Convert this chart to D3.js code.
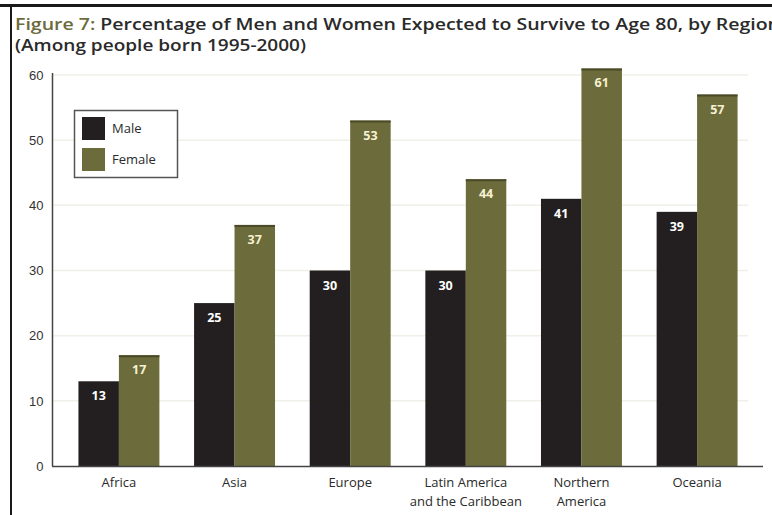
<!DOCTYPE html>
<html>
<head>
<meta charset="utf-8">
<script src="https://cdn.jsdelivr.net/npm/d3@7"></script>
<style>
  body { margin: 0; background: #fff; }
  svg { display: block; font-family: "Open Sans", "DejaVu Sans", sans-serif; }
</style>
</head>
<body>
<svg id="chart" width="772" height="515"></svg>
<script>
const regions = [["Africa"], ["Asia"], ["Europe"], ["Latin America", "and the Caribbean"], ["Northern", "America"], ["Oceania"]];
const male = [13, 25, 30, 30, 41, 39];
const female = [17, 37, 53, 44, 61, 57];
const yTicks = [0, 10, 20, 30, 40, 50, 60];
const seriesNames = ["Male", "Female"];

const colors = { Male: "#231f20", Female: "#6b6b3b" };
const labelColors = { Male: "#ffffff", Female: "#f6f1d0" };

const svg = d3.select("#chart");

// frame
svg.append("line").attr("x1", 0).attr("x2", 772).attr("y1", 5.5).attr("y2", 5.5)
  .attr("stroke", "#1a1a1a").attr("stroke-width", 3);
svg.append("line").attr("x1", 11).attr("x2", 11).attr("y1", 4).attr("y2", 515)
  .attr("stroke", "#1a1a1a").attr("stroke-width", 2);

// title
const title = svg.append("text").attr("x", 15).attr("y", 30)
  .style("font-size", "16px").style("font-weight", 600)
  .attr("textLength", 765).attr("lengthAdjust", "spacingAndGlyphs");
title.append("tspan").attr("fill", "#6b6b3b").text("Figure 7: ");
title.append("tspan").attr("fill", "#2a2a2a").text("Percentage of Men and Women Expected to Survive to Age 80, by Region");
svg.append("text").attr("x", 15).attr("y", 51)
  .style("font-size", "16px").style("font-weight", 600).attr("fill", "#2a2a2a")
  .attr("textLength", 291).attr("lengthAdjust", "spacingAndGlyphs")
  .text("(Among people born 1995-2000)");

const x = d3.scaleBand()
  .domain(regions.map((r, i) => i))
  .range([53, 763])
  .paddingInner(0.3)
  .paddingOuter(0.22);

const xs = d3.scaleBand()
  .domain(seriesNames)
  .range([0, x.bandwidth()]);

const y = d3.scaleLinear()
  .domain([0, 60])
  .range([466, 75]);

// gridlines
svg.append("g")
  .selectAll("line")
  .data(yTicks.filter(t => t > 0))
  .join("line")
  .attr("x1", 53).attr("x2", 748)
  .attr("y1", d => y(d)).attr("y2", d => y(d))
  .attr("stroke", "#f0efe8").attr("stroke-width", 1.5);

// y axis
const yAxis = svg.append("g")
  .attr("transform", "translate(52.5,0)")
  .call(d3.axisLeft(y).tickValues(yTicks).tickSize(0).tickPadding(9));
yAxis.select(".domain").attr("stroke", "#444").attr("stroke-width", 1.5)
  .attr("d", `M0,${y(0)}V${y(60) - 2}`);
yAxis.selectAll("text").style("font-size", "13px").style("font-weight", 500).attr("fill", "#333");

// bars
const groups = svg.append("g")
  .selectAll("g")
  .data(regions.map((r, i) => i))
  .join("g")
  .attr("transform", i => `translate(${x(i)},0)`);

const barData = i => [
  { series: "Male", value: male[i] },
  { series: "Female", value: female[i] },
];

groups.selectAll("rect")
  .data(barData)
  .join("rect")
  .attr("x", d => xs(d.series))
  .attr("y", d => y(d.value))
  .attr("width", xs.bandwidth())
  .attr("height", d => y(0) - y(d.value))
  .attr("fill", d => colors[d.series]);

groups.selectAll("line.top")
  .data(i => barData(i).filter(d => d.series === "Female"))
  .join("line")
  .attr("class", "top")
  .attr("x1", d => xs(d.series)).attr("x2", d => xs(d.series) + xs.bandwidth())
  .attr("y1", d => y(d.value) + 1).attr("y2", d => y(d.value) + 1)
  .attr("stroke", "#4a4a28").attr("stroke-width", 2);

groups.selectAll("text.val")
  .data(barData)
  .join("text")
  .attr("class", "val")
  .attr("x", d => xs(d.series) + xs.bandwidth() / 2)
  .attr("y", d => y(d.value) + 19)
  .attr("text-anchor", "middle")
  .style("font-size", "12.5px").style("font-weight", 700)
  .attr("fill", d => labelColors[d.series])
  .text(d => d.value);

// x axis
svg.append("line")
  .attr("x1", 52).attr("x2", 763)
  .attr("y1", y(0) + 0.5).attr("y2", y(0) + 0.5)
  .attr("stroke", "#444").attr("stroke-width", 1.5);

groups.append("text")
  .attr("x", x.bandwidth() / 2)
  .attr("y", 487)
  .attr("text-anchor", "middle")
  .style("font-size", "13px")
  .attr("fill", "#2a2a2a")
  .selectAll("tspan")
  .data(i => regions[i])
  .join("tspan")
  .attr("x", x.bandwidth() / 2)
  .attr("dy", (d, k) => k === 0 ? 0 : 19)
  .text(d => d);

// legend
const legend = svg.append("g").attr("transform", "translate(74,110)");
legend.append("rect").attr("x", 0.5).attr("y", 0.5).attr("width", 103).attr("height", 67)
  .attr("fill", "#fff").attr("stroke", "#555").attr("stroke-width", 1.5);
seriesNames.forEach((name, i) => {
  legend.append("rect")
    .attr("x", 8).attr("y", 7 + i * 31).attr("width", 23).attr("height", 23)
    .attr("fill", colors[name]);
  legend.append("text")
    .attr("x", 38).attr("y", 23 + i * 31)
    .style("font-size", "13px").attr("fill", "#2a2a2a")
    .text(name);
});
</script>
</body>
</html>
